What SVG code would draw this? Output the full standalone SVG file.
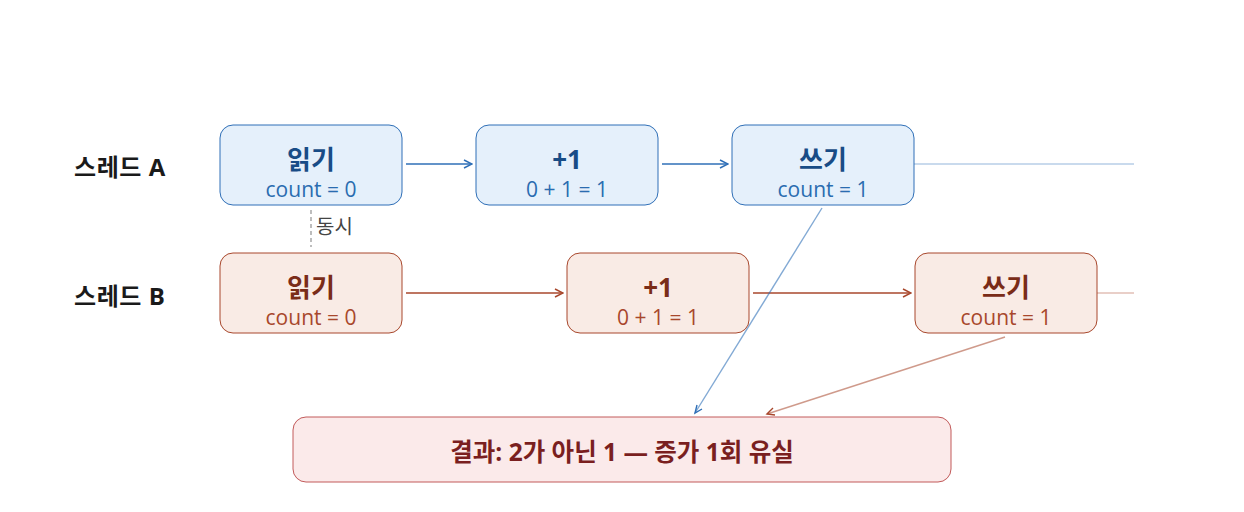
<svg xmlns="http://www.w3.org/2000/svg" width="1244" height="512" viewBox="0 0 1244 512">
<defs>
<style>
text{font-family:"Open Sans","Noto Sans CJK KR",sans-serif;text-anchor:middle}
.lane{font-size:24px;font-weight:700;fill:#1a1a1a;text-anchor:start;letter-spacing:0.6px}
.a rect{fill:#e5f0fb;stroke:#2f6fb7;stroke-width:1}
.a .t{fill:#184c86;font-size:26px;font-weight:700}
.a .s{fill:#2a6cb0;font-size:21px}
.b rect{fill:#f9ebe5;stroke:#a8472c;stroke-width:1}
.b .t{fill:#7a2c18;font-size:26px;font-weight:700}
.b .s{fill:#a8472c;font-size:21px}
.res rect{fill:#fbeaea;stroke:#c25a5a;stroke-width:1}
.res text{fill:#7a1f1f;font-size:24.5px;font-weight:700}
.ea{stroke:#2f6fb7;stroke-width:1.6;fill:none}
.eb{stroke:#a8472c;stroke-width:1.6;fill:none}
</style>
<marker id="ma" viewBox="0 0 10 10" refX="9" refY="5" markerWidth="10" markerHeight="10" markerUnits="userSpaceOnUse" orient="auto"><path d="M1,1 L9,5 L1,9" fill="none" stroke="#2f6fb7" stroke-width="1.5"/></marker>
<marker id="mb" viewBox="0 0 10 10" refX="9" refY="5" markerWidth="10" markerHeight="10" markerUnits="userSpaceOnUse" orient="auto"><path d="M1,1 L9,5 L1,9" fill="none" stroke="#a8472c" stroke-width="1.5"/></marker>
</defs>
<rect width="1244" height="512" fill="#ffffff"/>
<text class="lane" x="74" y="176">스레드 A</text>
<text class="lane" x="74" y="305">스레드 B</text>
<g id="connectors">
<line class="ea" x1="406" y1="164" x2="472" y2="164" marker-end="url(#ma)"/>
<line class="ea" x1="662" y1="164" x2="728" y2="164" marker-end="url(#ma)"/>
<line class="ea" x1="914" y1="164" x2="1134" y2="164" stroke-opacity="0.35"/>
<line class="eb" x1="406" y1="293" x2="563" y2="293" marker-end="url(#mb)"/>
<line class="eb" x1="753" y1="293" x2="911" y2="293" marker-end="url(#mb)"/>
<line class="eb" x1="1097" y1="293" x2="1134" y2="293" stroke-opacity="0.35"/>
<line x1="311" y1="210" x2="311" y2="247" stroke="#9a9a9a" stroke-width="1.3" stroke-dasharray="4,3"/>
<text x="316" y="234" style="font-size:20px;fill:#444;text-anchor:start">동시</text>
<line x1="822" y1="208" x2="695" y2="413" stroke="#2f6fb7" stroke-width="1.4" stroke-opacity="0.6"/>
<path d="M697,405 L695,413 L702,409" fill="none" stroke="#2f6fb7" stroke-width="1.4"/>
<line x1="1005" y1="337" x2="767" y2="414" stroke="#a8472c" stroke-width="1.4" stroke-opacity="0.55"/>
<path d="M773,408 L767,414 L775,415" fill="none" stroke="#a8472c" stroke-width="1.4"/>
</g>
<g id="a1" class="a"><rect x="220" y="125" width="182" height="80" rx="13"/><text class="t" x="311" y="169">읽기</text><text class="s" x="311" y="197">count = 0</text></g>
<g id="a2" class="a"><rect x="476" y="125" width="182" height="80" rx="13"/><text class="t" x="567" y="169">+1</text><text class="s" x="567" y="197">0 + 1 = 1</text></g>
<g id="a3" class="a"><rect x="732" y="125" width="182" height="80" rx="13"/><text class="t" x="823" y="169">쓰기</text><text class="s" x="823" y="197">count = 1</text></g>
<g id="b1" class="b"><rect x="220" y="253" width="182" height="80" rx="13"/><text class="t" x="311" y="297">읽기</text><text class="s" x="311" y="325">count = 0</text></g>
<g id="b2" class="b"><rect x="567" y="253" width="182" height="80" rx="13"/><text class="t" x="658" y="297">+1</text><text class="s" x="658" y="325">0 + 1 = 1</text></g>
<g id="b3" class="b"><rect x="915" y="253" width="182" height="80" rx="13"/><text class="t" x="1006" y="297">쓰기</text><text class="s" x="1006" y="325">count = 1</text></g>
<g id="result" class="res"><rect x="293" y="417" width="658" height="65" rx="13"/><text x="622" y="461">결과: 2가 아닌 1 — 증가 1회 유실</text></g>
</svg>
